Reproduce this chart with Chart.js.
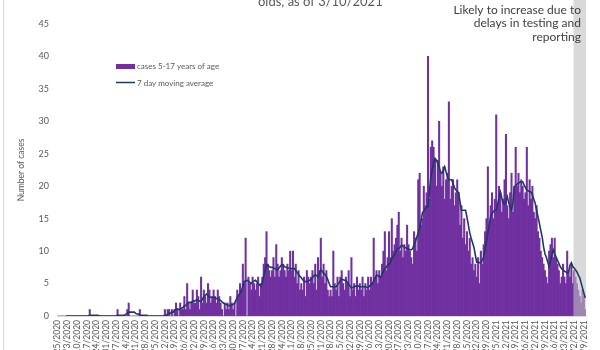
<!DOCTYPE html>
<html>
<head>
<meta charset="utf-8">
<script src="https://cdn.jsdelivr.net/npm/chart.js@4/dist/chart.umd.min.js"></script>
<style>
  html, body { margin: 0; padding: 0; background: #fff; overflow: hidden; }
  canvas { display: block; }
</style>
</head>
<body>
<canvas id="chart" width="600" height="350"></canvas>
<script>
// daily cases, one row per week, first day 2/25/2020
const cases = [
    0,0,0,0,0,0,0,
    0,0,0,0,0,0,0,
    0,0,0,0,0,0,0,
    0,0,1,0,0,0,0,
    0,0,0,0,0,0,0,
    0,0,0,0,0,0,0,
    0,1,0,0,0,0,0,
    0,1,2,0,0,0,0,
    0,0,0,1,0,0,0,
    0,0,0,0,0,0,0,
    0,0,0,0,0,0,0,
    1,0,1,1,0,1,0,
    1,2,1,0,2,1,1,
    3,1,5,2,1,2,4,
    2,2,4,3,1,6,2,
    4,3,2,5,4,2,3,
    4,3,2,4,3,2,1,
    0,2,1,2,1,3,2,
    1,2,0,4,3,5,4,
    8,5,12,0,6,5,4,
    6,5,4,5,6,3,5,
    6,8,9,13,8,7,6,
    7,9,6,11,8,6,7,
    9,8,7,6,8,7,10,
    7,10,6,8,5,7,4,
    5,4,6,3,7,6,5,
    6,7,5,8,4,9,7,
    12,6,8,5,7,4,3,
    4,3,10,5,4,6,3,
    6,7,5,4,6,5,7,
    3,9,4,5,3,6,4,
    5,4,6,3,5,4,6,
    4,6,5,12,6,7,5,
    7,6,8,10,13,7,9,
    13,9,15,10,11,12,14,
    16,10,12,9,11,10,14,
    11,10,9,8,13,12,10,
    21,22,14,15,20,17,19,
    40,18,26,27,26,24,20,
    24,30,22,20,23,18,21,
    22,33,18,20,21,17,19,
    21,19,14,17,12,15,11,
    13,10,12,8,9,7,8,
    6,9,5,10,8,11,13,
    15,23,14,17,19,15,18,
    31,17,20,19,16,18,21,
    28,17,15,19,22,16,20,
    26,20,22,19,21,20,18,
    19,26,17,21,18,20,16,
    15,17,13,12,10,9,8,
    7,6,5,10,11,12,9,
    12,9,8,7,5,6,8,
    6,5,10,7,6,8,5,
    7,6,5,4,3,2,4,
    3,1
];

// 7 day moving average
const movingAvg = [
    null,null,null,null,null,null,0,
    0,0,0,0,0,0,0,
    0,0,0,0,0,0,0,
    0,0,0.1,0.1,0.1,0.1,0.1,
    0.1,0.1,0,0,0,0,0,
    0,0,0,0,0,0,0,
    0,0.1,0.1,0.1,0.1,0.1,0.1,
    0.3,0.4,0.6,0.6,0.6,0.6,0.6,
    0.4,0.3,0.3,0.1,0.1,0.1,0.1,
    0.1,0.1,0,0,0,0,0,
    0,0,0,0,0,0,0,
    0.1,0.1,0.3,0.4,0.4,0.6,0.6,
    0.9,1.0,1.1,1.0,1.1,1.2,1.3,
    1.6,1.6,1.9,2.1,2.1,2.1,2.3,
    2.3,2.4,2.5,2.4,2.3,2.2,2.6,
    3.0,3.2,3.4,3.1,2.9,2.9,2.9,
    2.9,2.8,2.7,2.6,2.5,2.4,2.2,
    2.0,1.9,1.8,1.7,1.6,1.6,1.7,
    1.8,1.9,2.4,2.9,3.2,3.5,3.9,
    4.6,5.3,5.4,5.5,5.4,5.2,5.0,
    5.2,5.4,5.5,5.3,5.0,4.8,4.6,
    5.2,6.1,7.0,7.9,7.8,7.6,7.5,
    7.5,7.4,7.3,7.2,7.1,7.4,7.7,
    7.9,7.8,7.6,7.5,7.4,7.4,7.3,
    7.3,7.3,7.3,7.0,6.7,6.4,6.1,
    5.9,5.6,5.4,5.3,5.3,5.4,5.5,
    5.7,5.9,6.2,6.4,6.2,6.0,6.5,
    7.1,6.9,6.6,6.4,6.1,5.6,5.0,
    4.5,4.5,4.5,4.5,4.5,4.8,5.1,
    5.4,5.7,5.6,5.5,5.5,5.2,4.9,
    4.6,4.3,4.4,4.5,4.6,4.6,4.6,
    4.5,4.5,4.5,4.5,4.5,4.4,4.4,
    4.6,4.8,5.0,5.4,5.8,6.3,6.2,
    6.1,6.0,6.5,6.9,7.3,7.5,7.8,
    8.0,8.2,8.8,9.2,9.4,9.9,10.4,
    10.4,10.6,10.9,10.8,10.6,10.5,10.4,
    10.3,10.2,10.2,10.4,11.0,11.5,12.2,
    12.8,13.6,14.7,15.9,16.2,16.5,16.8,
    16.8,19.0,21.4,22.5,23.5,24.3,24.0,
    23.6,23.0,22.2,22.0,22.5,23.0,22.2,
    21.5,21.0,21.0,21.0,20.4,19.8,19.4,
    19.2,19.0,17.6,16.3,16.3,16.3,16.3,
    15.2,14.0,12.8,12.0,11.3,10.6,9.4,
    8.3,8.3,8.2,8.2,8.6,9.1,10.3,
    11.5,12.8,14.0,15.3,15.8,16.1,16.3,
    16.3,17.2,18.2,19.1,18.2,17.4,17.2,
    17.8,18.4,17.4,16.8,16.3,17.5,19.9,
    20.1,20.3,20.5,20.6,20.7,20.7,20.2,
    19.8,19.4,19.3,19.2,19.1,18.7,18.0,
    17.4,16.3,15.3,14.3,13.2,12.2,10.7,
    9.6,9.1,8.3,7.6,8.4,9.4,10.2,
    9.6,9.1,8.6,8.1,7.6,7.3,7.1,
    6.9,6.8,6.6,6.8,7.8,8.2,7.6,
    7.4,7.1,6.8,6.3,5.9,5.1,4.3,
    3.5,2.8
];

const yTicks = [0, 5, 10, 15, 20, 25, 30, 35, 40, 45];
const shadeFrom = "3/2/2021";   // recent days, still incomplete
const noteLines = ["Likely to increase due to", "delays in testing and", "reporting"];

// one category per day
const days = [];
for (let i = 0; i < cases.length; i++) {
    const d = new Date(2020, 1, 25 + i);
    days.push((d.getMonth() + 1) + "/" + d.getDate() + "/" + d.getFullYear());
}

const FONT = "Lato, 'Open Sans', sans-serif";

const extras = {
    id: "extras",
    afterDatasetDraw(chart, args) {
        if (args.index !== 1) return;   // right after the bars, before the line
        const { ctx, chartArea, scales: { x } } = chart;
        const idx = days.indexOf(shadeFrom);
        const half = (x.getPixelForValue(1) - x.getPixelForValue(0)) / 2;
        const left = x.getPixelForValue(idx) - half;
        ctx.save();
        ctx.fillStyle = "rgba(191,191,191,0.6)";
        ctx.fillRect(left, 0, chartArea.right - left, chartArea.bottom);
        ctx.restore();
    },
    afterDraw(chart) {
        const ctx = chart.ctx;
        ctx.save();

        // frame line on the left
        ctx.strokeStyle = "#d9d9d9";
        ctx.lineWidth = 1;
        ctx.beginPath();
        ctx.moveTo(3.5, 0);
        ctx.lineTo(3.5, 350);
        ctx.stroke();

        // tail of the title (first line is cut off)
        ctx.fillStyle = "#595959";
        ctx.font = "13px " + FONT;
        ctx.textAlign = "left";
        ctx.textBaseline = "alphabetic";
        ctx.fillText("olds, as of 3/10/2021", 258, 6);

        // note above the shaded days
        ctx.fillStyle = "#404040";
        ctx.font = "12px " + FONT;
        ctx.textAlign = "right";
        ctx.textBaseline = "middle";
        noteLines.forEach((t, i) => ctx.fillText(t, 581, 10 + i * 13.5));

        // legend
        ctx.fillStyle = "#7030a0";
        ctx.fillRect(116, 64, 19, 5);
        ctx.strokeStyle = "#1f3864";
        ctx.lineWidth = 1.5;
        ctx.beginPath();
        ctx.moveTo(116, 82.5);
        ctx.lineTo(135, 82.5);
        ctx.stroke();
        ctx.fillStyle = "#595959";
        ctx.font = "8px " + FONT;
        ctx.textAlign = "left";
        ctx.fillText("cases 5-17 years of age", 137, 66.5);
        ctx.fillText("7 day moving average", 137, 83);

        ctx.restore();
    }
};

new Chart(document.getElementById("chart"), {
    type: "bar",
    data: {
        labels: days,
        datasets: [{
            type: "line",
            label: "7 day moving average",
            data: movingAvg,
            borderColor: "#1f3864",
            borderWidth: 1.6,
            pointRadius: 0,
            tension: 0,
            spanGaps: false
        }, {
            label: "cases 5-17 years of age",
            data: cases,
            backgroundColor: "#7030a0",
            barPercentage: 1,
            categoryPercentage: 1
        }]
    },
    options: {
        responsive: false,
        animation: false,
        layout: { padding: { left: 16, right: 14, top: 24, bottom: 0 } },
        plugins: {
            legend: { display: false },
            tooltip: { enabled: false }
        },
        scales: {
            x: {
                grid: { display: false, drawTicks: false },
                border: { display: true, color: "#d9d9d9" },
                ticks: {
                    autoSkip: false,
                    maxRotation: 90,
                    minRotation: 90,
                    padding: 4,
                    color: "#595959",
                    font: { family: FONT, size: 8.5 },
                    callback: function (value, index) {
                        return index % 7 === 0 ? days[index] : null;
                    }
                },
                afterFit: function (scale) { scale.height = 34; }
            },
            y: {
                min: 0,
                max: 45,
                grid: { display: false, drawTicks: false },
                border: { display: false },
                afterBuildTicks: function (scale) {
                    scale.ticks = yTicks.map(v => ({ value: v }));
                },
                ticks: {
                    padding: 8,
                    color: "#595959",
                    font: { family: FONT, size: 9 }
                },
                title: {
                    display: true,
                    text: "Number of cases",
                    color: "#595959",
                    font: { family: FONT, size: 8.5 },
                    padding: 0
                },
                afterFit: function (scale) { scale.width = 41; }
            }
        }
    },
    plugins: [extras]
});
</script>
</body>
</html>
